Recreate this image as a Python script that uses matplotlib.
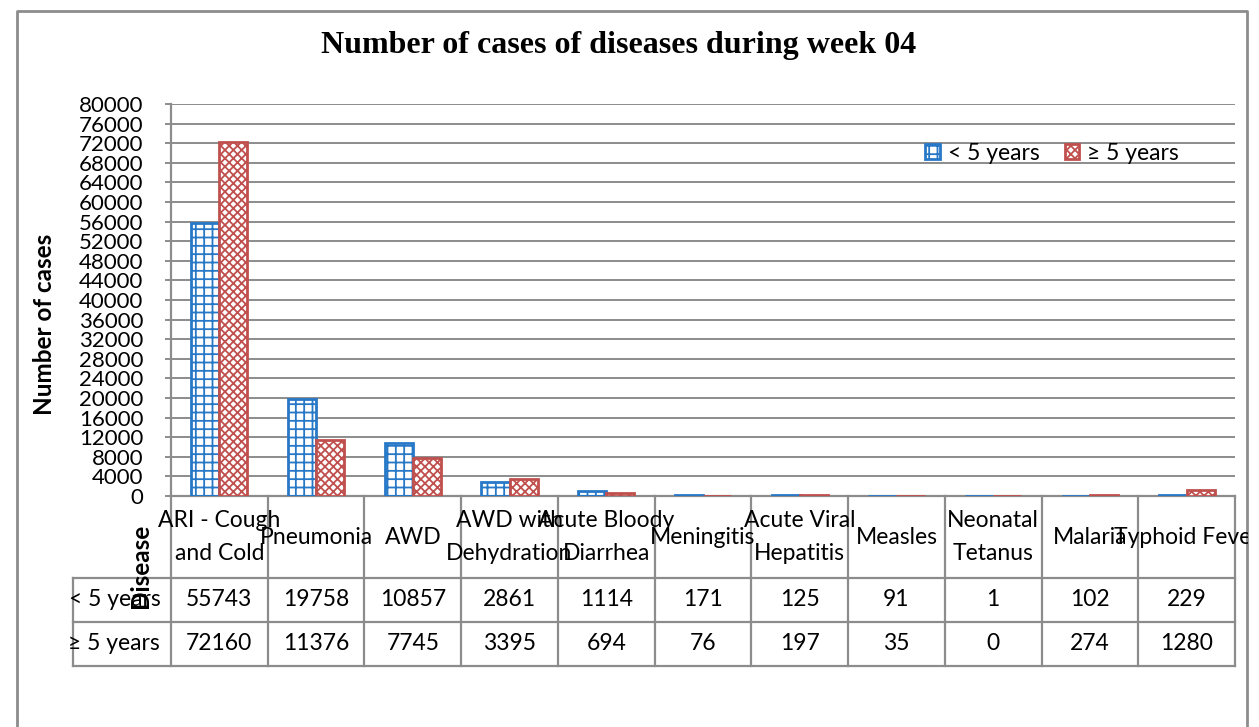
import numpy as np
import matplotlib
matplotlib.use("Agg")
import matplotlib.pyplot as plt

plt.rcParams['font.family'] = ['Lato', 'DejaVu Sans']
plt.rcParams['hatch.linewidth'] = 1.3

# data
diseases = ["ARI - Cough\nand Cold", "Pneumonia", "AWD", "AWD with\nDehydration",
            "Acute Bloody\nDiarrhea", "Meningitis", "Acute Viral\nHepatitis",
            "Measles", "Neonatal\nTetanus", "Malaria", "Typhoid Fever"]
under5 = [55743, 19758, 10857, 2861, 1114, 171, 125, 91, 1, 102, 229]
over5 = [72160, 11376, 7745, 3395, 694, 76, 197, 35, 0, 274, 1280]
series_names = ["< 5 years", "\u2265 5 years"]
yticks = list(range(0, 80001, 4000))

W, H = 1259, 727
GRID = "#8c8c8c"
BLUE = "#2878c8"
RED = "#c0504d"

fig = plt.figure(figsize=(W / 100, H / 100), dpi=100)

# plot area in pixels
px_l, px_r, px_t, px_b = 171, 1235, 104, 496
ax = fig.add_axes([px_l / W, 1 - px_b / H, (px_r - px_l) / W, (px_b - px_t) / H])

x = np.arange(len(diseases))
w = 0.29
ax.bar(x - w / 2, under5, w, facecolor="white", edgecolor=BLUE, hatch="++",
       linewidth=2, label=series_names[0], zorder=3)
ax.bar(x + w / 2, over5, w, facecolor="white", edgecolor=RED, hatch="xxxx",
       linewidth=2, label=series_names[1], zorder=3)

ax.set_xlim(-0.5, len(diseases) - 0.5)
ax.set_ylim(0, 80000)
ax.set_yticks(yticks)
ax.set_yticklabels([str(v) for v in yticks], fontsize=16)
ax.set_xticks([])
ax.yaxis.grid(True, color=GRID, linewidth=1.4, zorder=0)
ax.set_axisbelow(True)
for s in ["top", "right"]:
    ax.spines[s].set_visible(False)
for s in ["left", "bottom"]:
    ax.spines[s].set_color(GRID)
    ax.spines[s].set_linewidth(1.6)
ax.tick_params(axis="y", direction="out", length=4, color=GRID, width=1.4, pad=16)

leg = ax.legend(loc="center left", bbox_to_anchor=(914 / W, 1 - 153 / H),
                bbox_transform=fig.transFigure, ncol=2, frameon=False,
                fontsize=16.5, handlelength=0.62, handleheight=0.62,
                handletextpad=0.35, columnspacing=1.1, borderpad=0)

# overlay in pixel coordinates for frame, titles and the data table
FR = 1248
ov = fig.add_axes([0, 0, FR / W, 1], zorder=5)
ov.set_xlim(0, FR)
ov.set_ylim(H, 0)
ov.axis("off")
ov.patch.set_alpha(0)

ov.plot([17, 17, FR - 1, FR - 1], [H + 5, 11, 11, H + 5], color=GRID, linewidth=2,
        clip_on=False)

ov.text(619, 45, "Number of cases of diseases during week 04", ha="center", va="center",
        fontsize=23, fontweight="bold", family="Liberation Serif")
ov.text(45, 324, "Number of cases", rotation=90, ha="center", va="center",
        fontsize=17.5, fontweight="bold")

# table
n = len(diseases)
cw = (px_r - px_l) / n
edges = [px_l + i * cw for i in range(n + 1)]
row_y = [496, 578, 622, 666]
lab_l = 73
lk = dict(color=GRID, linewidth=1.6, zorder=6)
for e in edges:
    ov.plot([e, e], [row_y[0], row_y[3]], **lk)
ov.plot([lab_l, lab_l], [row_y[1], row_y[3]], **lk)
for yy in row_y[1:]:
    ov.plot([lab_l, px_r], [yy, yy], **lk)

for i, name in enumerate(diseases):
    ov.text(edges[i] + cw / 2, 537, name, ha="center", va="center",
            fontsize=16.5, linespacing=1.7, zorder=7, clip_on=True)
    ov.text(edges[i] + cw / 2, 600, str(under5[i]), ha="center", va="center",
            fontsize=16.5, zorder=7)
    ov.text(edges[i] + cw / 2, 644, str(over5[i]), ha="center", va="center",
            fontsize=16.5, zorder=7)
ov.text(115, 600, series_names[0], ha="center", va="center", fontsize=16.5, zorder=7)
ov.text(114, 644, series_names[1], ha="center", va="center", fontsize=16.5, zorder=7)
ov.text(141, 566, "Disease", rotation=90, ha="center", va="center",
        fontsize=17.5, fontweight="bold", zorder=8)

fig.savefig("out.png", dpi=100, facecolor="white")
